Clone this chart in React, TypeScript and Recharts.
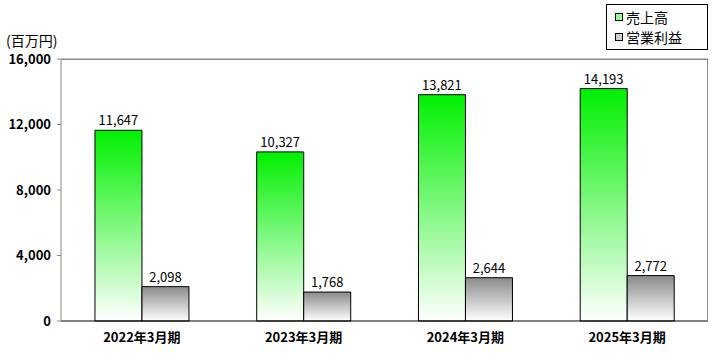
import { BarChart, Bar, XAxis, YAxis, LabelList, ReferenceLine } from "recharts";

const categories = ["2022年3月期", "2023年3月期", "2024年3月期", "2025年3月期"];
const sales = [11647, 10327, 13821, 14193];
const operatingProfit = [2098, 1768, 2644, 2772];
const yTicks = [0, 4000, 8000, 12000, 16000];

const data = categories.map((name, i) => ({
  name,
  sales: sales[i],
  profit: operatingProfit[i],
}));

const FONT = "'Noto Sans CJK JP', 'DejaVu Sans', sans-serif";
const fmt = (v: number) => v.toLocaleString("en-US");

const App = () => {
  return (
    <div style={{ position: "absolute", left: 0, top: 0, width: 723, height: 356, background: "#fff", fontFamily: FONT }}>
      <div style={{ position: "absolute", left: 6, top: 33, fontSize: 14, lineHeight: "14px", color: "#000" }}>(百万円)</div>
      <div
        style={{
          position: "absolute",
          left: 606,
          top: 4,
          width: 100,
          height: 44,
          border: "1px solid #000",
          fontSize: 14,
          lineHeight: "18px",
          background: "#fff",
          zIndex: 2,
        }}
      >
        <div style={{ position: "absolute", left: 8, top: 3, display: "flex", alignItems: "center" }}>
          <span style={{ width: 6, height: 6, border: "1px solid #000", background: "#8fff8f", marginRight: 3 }} />
          売上高
        </div>
        <div style={{ position: "absolute", left: 8, top: 23, display: "flex", alignItems: "center" }}>
          <span style={{ width: 6, height: 6, border: "1px solid #000", background: "#d0d0d0", marginRight: 3 }} />
          営業利益
        </div>
      </div>
      <div
        style={{
          position: "absolute",
          left: 61,
          top: 59,
          width: 647,
          height: 262,
          borderTop: "1px solid #888",
          borderRight: "1px solid #888",
          boxSizing: "border-box",
          pointerEvents: "none",
          zIndex: 1,
        }}
      />
      <BarChart
        width={723}
        height={356}
        data={data}
        margin={{ top: 59, right: 15, bottom: 0, left: 0 }}
        barCategoryGap="21%"
        barGap={0}
      >
        <defs>
          <linearGradient id="greenGrad" x1="0" y1="0" x2="0" y2="1">
            <stop offset="0%" stopColor="#00f000" />
            <stop offset="100%" stopColor="#ffffff" />
          </linearGradient>
          <linearGradient id="grayGrad" x1="0" y1="0" x2="0" y2="1">
            <stop offset="0%" stopColor="#8a8a8a" />
            <stop offset="100%" stopColor="#ffffff" />
          </linearGradient>
        </defs>
        <XAxis
          dataKey="name"
          axisLine={{ stroke: "#000" }}
          tickLine={false}
          height={35}
          tick={{ fill: "#000", fontSize: 13, fontWeight: "bold", fontFamily: FONT }}
          tickMargin={6}
        />
        <YAxis
          width={61}
          domain={[0, 16000]}
          ticks={yTicks}
          tickFormatter={fmt}
          axisLine={{ stroke: "#888" }}
          tickLine={{ stroke: "#888" }}
          tickSize={4}
          tick={{ fill: "#000", fontSize: 13, fontWeight: "bold", fontFamily: FONT }}
          tickMargin={6}
        />
        <ReferenceLine y={16000} stroke="#888" />
        <Bar dataKey="sales" fill="url(#greenGrad)" stroke="#000" strokeWidth={1} isAnimationActive={false}>
          <LabelList dataKey="sales" position="top" formatter={(v: any) => fmt(Number(v))} style={{ fill: "#000", fontSize: 13, fontFamily: FONT }} />
        </Bar>
        <Bar dataKey="profit" fill="url(#grayGrad)" stroke="#000" strokeWidth={1} isAnimationActive={false}>
          <LabelList dataKey="profit" position="top" formatter={(v: any) => fmt(Number(v))} style={{ fill: "#000", fontSize: 13, fontFamily: FONT }} />
        </Bar>
      </BarChart>
    </div>
  );
};

export default App;
